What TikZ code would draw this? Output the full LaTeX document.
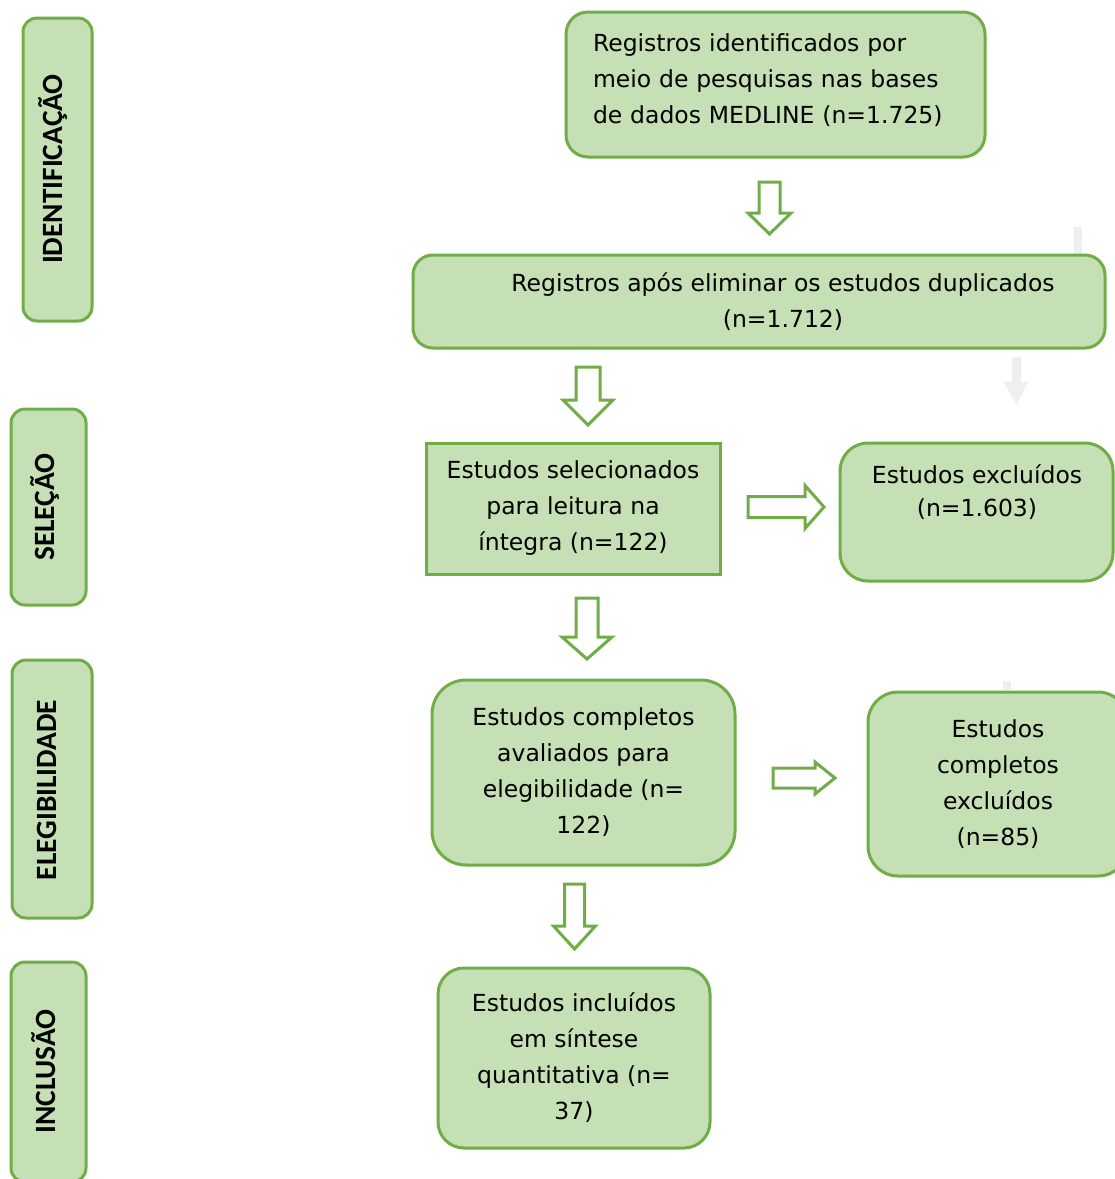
\documentclass[tikz,border=0pt]{standalone}
\usepackage{fontspec}
\setmainfont{DejaVu Sans}
\newfontfamily\sidefont{Carlito}
\definecolor{boxfill}{HTML}{C5E0B4}
\definecolor{boxline}{HTML}{70AD47}
\definecolor{ghost}{HTML}{EFEFEF}
\newcommand\mainsz{\fontsize{23.5}{36}\selectfont}
\newcommand\arrdown[6]{%
  \draw[blk] ({#1-#3},#2) -- ({#1+#3},#2) -- ({#1+#3},#4) -- ({#1+#5},#4) -- (#1,#6) -- ({#1-#5},#4) -- ({#1-#3},#4) -- cycle;}
\newcommand\arrright[6]{%
  \draw[blk] (#2,{#1-#3}) -- (#4,{#1-#3}) -- (#4,{#1-#5}) -- (#6,#1) -- (#4,{#1+#5}) -- (#4,{#1+#3}) -- (#2,{#1+#3}) -- cycle;}
\tikzset{
  box/.style={draw=boxline, fill=boxfill, line width=3pt, rounded corners=24pt,
    align=center, inner sep=0pt, font=\mainsz},
  side/.style={draw=boxline, fill=boxfill, line width=3pt, rounded corners=14pt,
    inner sep=0pt},
  sidetext/.style={rotate=90, font=\sidefont\bfseries\fontsize{29.4}{30}\selectfont},
  blk/.style={draw=boxline, fill=white, line width=3pt, line join=miter},
  txt/.style={align=center, font=\mainsz, inner sep=0pt},
}
\begin{document}
\begin{tikzpicture}[x=1pt,y=-1pt]
\useasboundingbox (0,0) rectangle (1115,1179);
\begin{scope}
\clip (0,0) rectangle (1115,1179);
% faint grey remnants
\fill[ghost] (1074,227) rectangle (1082,256);
\fill[ghost] (1012,357) -- (1021,357) -- (1021,382) -- (1028,382) -- (1016.5,405) -- (1004,382) -- (1012,382) -- cycle;
\fill[ghost] (1003,681) rectangle (1011,690);
% side labels
\node[side, minimum width=69pt, minimum height=303pt] (id) at (57.5,169.5) {};
\node[sidetext] at (53,169) {IDENTIFICAÇÃO};
\node[side, minimum width=75pt, minimum height=196pt] (sel) at (48.5,507) {};
\node[sidetext] at (45,507) {SELEÇÃO};
\node[side, minimum width=80pt, minimum height=258pt] (eleg) at (52,789) {};
\node[sidetext] at (47,790) {ELEGIBILIDADE};
\node[side, minimum width=75pt, minimum height=220pt] (incl) at (48.5,1072) {};
\node[sidetext] at (44,1071.5) {INCLUSÃO};
% main boxes
\node[box, rounded corners=22pt, minimum width=419pt, minimum height=145pt] (b1) at (775.5,84.5) {};
\node[txt, text width=365pt, align=left] (b1t) at (775.5,80.5)
  {Registros identificados por\\meio de pesquisas nas bases\\de dados MEDLINE (n=1.725)};
\node[box, rounded corners=20pt, minimum width=692pt, minimum height=93pt] (b2) at (759,301.5)
  {\hspace*{48pt}Registros após eliminar os estudos duplicados\\\hspace*{48pt}(n=1.712)};
\node[box, rounded corners=0pt, minimum width=294pt, minimum height=131pt] (b3) at (573,508.5)
  {Estudos selecionados\\para leitura na\\íntegra (n=122)};
\node[box, rounded corners=28pt, minimum width=273pt, minimum height=138pt] (e1) at (976.5,512) {};
\node[txt] (e1t) at (977,492) {Estudos excluídos\\[-3pt](n=1.603)};
\node[box, rounded corners=34pt, minimum width=303pt, minimum height=185pt] (b5) at (583.5,772.5)
  {Estudos completos\\avaliados para\\elegibilidade (n=\\122)};
\node[box, rounded corners=30pt, minimum width=260pt, minimum height=184pt] (e2) at (998,784)
  {Estudos\\completos\\excluídos\\(n=85)};
\node[box, rounded corners=26pt, minimum width=272pt, minimum height=180pt] (b7) at (574,1058)
  {Estudos incluídos\\em síntese\\quantitativa (n=\\37)};
% block arrows
\arrdown{769.5}{182}{10.5}{213}{21.5}{234}
\arrdown{588}{367}{12}{400}{25}{425}
\arrright{507}{748}{10.5}{805}{21.5}{824}
\arrdown{587}{598}{11}{637}{25}{659}
\arrright{778}{773}{10}{815}{16}{835}
\arrdown{574.5}{884}{10}{926}{21}{949}
\end{scope}
\end{tikzpicture}
\end{document}
